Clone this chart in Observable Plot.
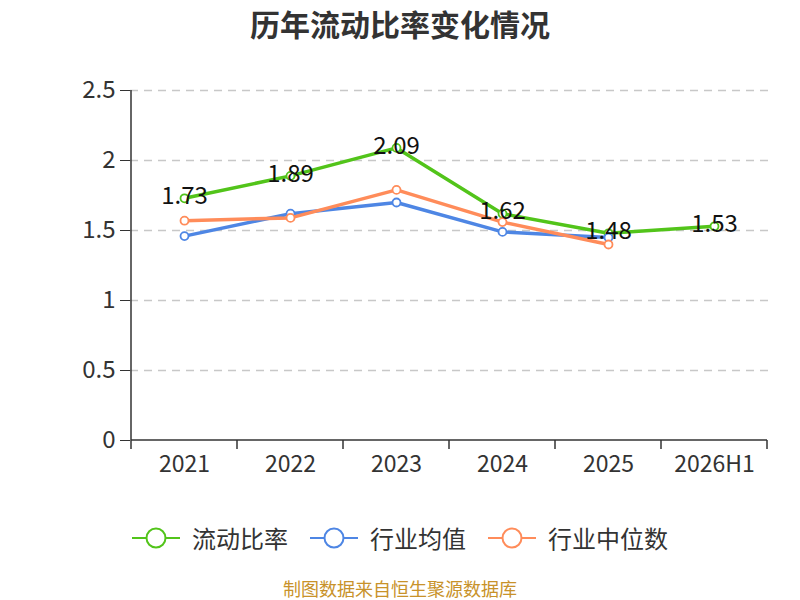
<!DOCTYPE html>
<html>
<head>
<meta charset="utf-8">
<script src="https://cdn.jsdelivr.net/npm/d3@7"></script>
<script src="https://cdn.jsdelivr.net/npm/@observablehq/plot@0.6"></script>
<style>
  body { margin: 0; background: #fff; font-family: "Noto Sans CJK SC", "Noto Sans", sans-serif; }
  #wrap { width: 800px; height: 600px; position: relative; overflow: hidden; }
  #title { height: 50px; line-height: 46px; text-align: center; font-size: 30px; font-weight: bold; color: #333; }
  #chart { height: 460px; }
  #legend { height: 55px; display: flex; justify-content: center; align-items: center; gap: 22px; font-size: 24px; color: #333; }
  .item { display: flex; align-items: center; gap: 12px; }
  #caption { position: absolute; top: 578px; width: 800px; text-align: center; font-size: 18px; line-height: 21px; color: #c8922a; }
</style>
</head>
<body>
<div id="wrap">
  <div id="title">历年流动比率变化情况</div>
  <div id="chart"></div>
  <div id="legend"></div>
  <div id="caption">制图数据来自恒生聚源数据库</div>
</div>
<script>
const categories = ["2021", "2022", "2023", "2024", "2025", "2026H1"];
const ratio = [1.73, 1.89, 2.09, 1.62, 1.48, 1.53];
const industryAvg = [1.46, 1.62, 1.70, 1.49, 1.45, null];
const industryMedian = [1.57, 1.59, 1.79, 1.56, 1.40, null];
const yTicks = [0, 0.5, 1, 1.5, 2, 2.5];
const seriesNames = ["流动比率", "行业均值", "行业中位数"];
const seriesColors = ["#52c41a", "#4e86e4", "#ff8c5a"];

const seriesValues = [ratio, industryAvg, industryMedian];
const rows = seriesValues.map(vals =>
  categories.map((c, i) => ({ cat: c, value: vals[i] })).filter(d => d.value != null)
);
const greenRows = rows[0];

function axisLines(index, scales, values, dims) {
  const g = d3.create("svg:g");
  const x = scales.x, y = scales.y;
  const step = x(categories[1]) - x(categories[0]);
  const left = x(categories[0]) - step / 2;
  const right = x(categories[categories.length - 1]) + step / 2;
  const y0 = y(0), yTop = y(yTicks[yTicks.length - 1]);
  g.append("line").attr("x1", left).attr("x2", left).attr("y1", yTop).attr("y2", y0)
    .attr("stroke", "#333").attr("stroke-width", 1.5);
  g.append("line").attr("x1", left).attr("x2", right).attr("y1", y0).attr("y2", y0)
    .attr("stroke", "#333").attr("stroke-width", 1.5);
  for (let i = 0; i <= categories.length; i++) {
    const xx = left + i * step;
    g.append("line").attr("x1", xx).attr("x2", xx).attr("y1", y0).attr("y2", y0 + 9)
      .attr("stroke", "#333").attr("stroke-width", 1.5);
  }
  return g.node();
}

const marks = [
  Plot.gridY(yTicks.filter(t => t > 0), { stroke: "#c8c8c8", strokeOpacity: 1, strokeWidth: 1.5, strokeDasharray: "8,6" }),
  Plot.axisY({ ticks: yTicks, tickSize: 10, tickPadding: 5, fontSize: 24, tickFormat: d => String(d), stroke: "#333", fill: "#333", label: null }),
  Plot.axisX({ tickSize: 0, tickPadding: 15, fontSize: 23, fill: "#333", label: null }),
  axisLines
];
rows.forEach((r, k) => {
  marks.push(Plot.line(r, { x: "cat", y: "value", stroke: seriesColors[k], strokeWidth: 3.5 }));
  marks.push(Plot.dot(r, { x: "cat", y: "value", r: 4, fill: "#fff", stroke: seriesColors[k], strokeWidth: 1.8 }));
});
marks.push(Plot.text(greenRows, { x: "cat", y: "value", text: d => String(d.value), fontSize: 24, fill: "#111", dy: -2, fontFamily: "Noto Sans CJK SC" }));

const chart = Plot.plot({
  width: 800,
  height: 460,
  marginTop: 40,
  marginBottom: 70,
  marginLeft: 130,
  marginRight: 32,
  style: { fontFamily: "Noto Sans CJK SC", background: "#fff", overflow: "visible" },
  x: { type: "point", domain: categories, padding: 0.5, axis: null },
  y: { domain: [0, 2.5], axis: null },
  marks
});
document.getElementById("chart").appendChild(chart);

const legend = document.getElementById("legend");
seriesNames.forEach((name, k) => {
  const item = document.createElement("div");
  item.className = "item";
  item.innerHTML = `<svg width="48" height="24"><line x1="0" x2="48" y1="12" y2="12" stroke="${seriesColors[k]}" stroke-width="2"/><circle cx="24" cy="12" r="9.5" fill="#fff" stroke="${seriesColors[k]}" stroke-width="2"/></svg><span>${name}</span>`;
  legend.appendChild(item);
});
</script>
</body>
</html>
